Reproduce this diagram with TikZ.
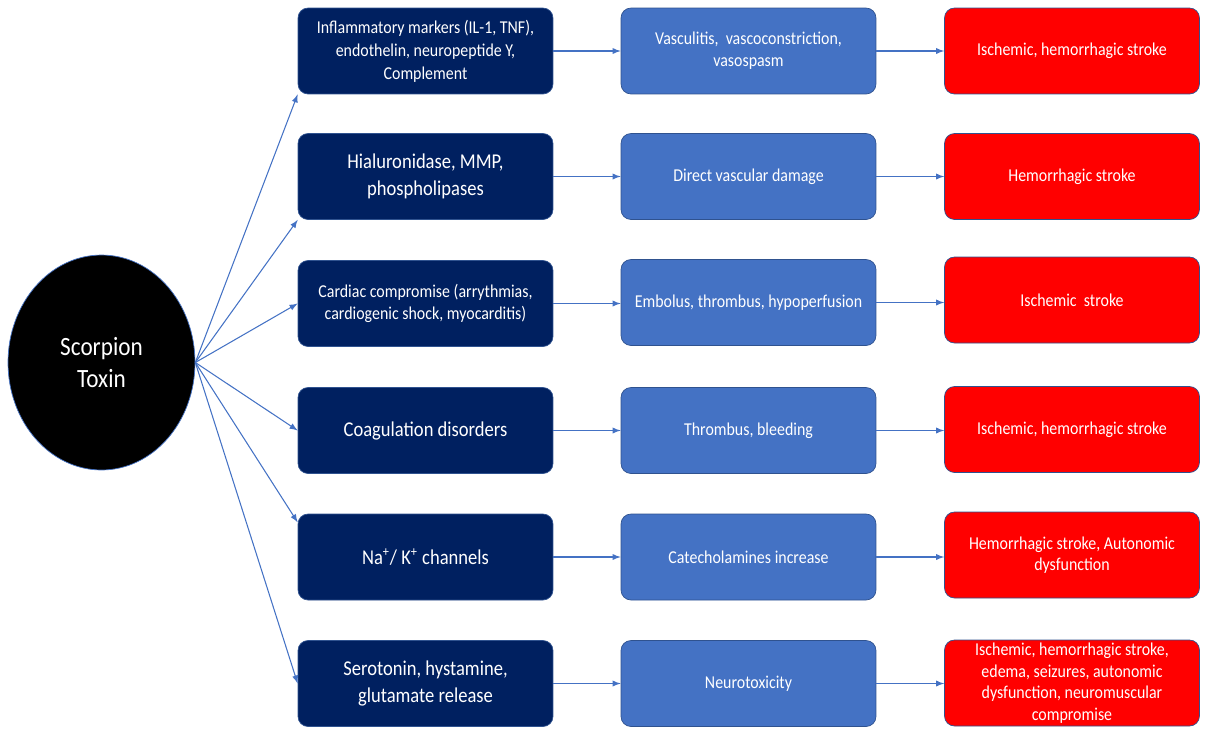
\documentclass[tikz,border=0pt]{standalone}
\usepackage{fontspec}
\setmainfont{Carlito}[FakeStretch=0.88]
\usetikzlibrary{arrows.meta,positioning,shapes,calc}

\definecolor{navy}{RGB}{0,32,96}
\definecolor{midblue}{RGB}{68,114,196}
\definecolor{edgeblue}{RGB}{47,82,143}
\definecolor{strokered}{RGB}{255,0,0}

\begin{document}
\begin{tikzpicture}[x=0.02cm, y=-0.02cm]

		\tikzstyle{toxin}=[ellipse, thin, fill=black, draw=midblue, text=white, minimum width=3.74cm, minimum height=4.3cm, align=center, font=\fontsize{15}{18}\selectfont]
		\tikzstyle{cause}=[rectangle, rounded corners=0.2cm, thin, fill=navy, draw=edgeblue, text=white, minimum width=5.1cm, minimum height=1.72cm, inner sep=1pt, align=center]
		\tikzstyle{effect}=[rectangle, rounded corners=0.2cm, thin, fill=midblue, draw=edgeblue, text=white, minimum width=5.1cm, minimum height=1.72cm, inner sep=1pt, align=center, font=\fontsize{10.3}{12.5}\selectfont]
		\tikzstyle{outcome}=[rectangle, rounded corners=0.2cm, thin, fill=strokered, draw=edgeblue, text=white, minimum width=5.1cm, minimum height=1.72cm, inner sep=0.5pt, align=center, font=\fontsize{10.3}{12.3}\selectfont]
		\tikzstyle{small}=[font=\fontsize{10.3}{13}\selectfont]
		\tikzstyle{large}=[font=\fontsize{12}{15}\selectfont]
		\tikzstyle{link}=[-latex, line width=0.6pt, midblue]

		\useasboundingbox (0,0) rectangle (1208,728);

		\node[toxin] (tox) at (101.5,362.5) {Scorpion\\Toxin};

		\node[cause, small] (c1) at (425.5,51)    {Inflammatory markers (IL-1, TNF),\\endothelin, neuropeptide Y,\\Complement};
		\node[cause, large] (c2) at (425.5,176.5) {Hialuronidase, MMP,\\phospholipases};
		\node[cause, small] (c3) at (425.5,303.5) {Cardiac compromise (arrythmias,\\cardiogenic shock, myocarditis)};
		\node[cause, large] (c4) at (425.5,430.5) {Coagulation disorders};
		\node[cause, large] (c5) at (425.5,557)   {Na\textsuperscript{+}/ K\textsuperscript{+} channels};
		\node[cause, large] (c6) at (425.5,683.5) {Serotonin, hystamine,\\glutamate release};

		\node[effect] (b1) at (748.5,51)    {Vasculitis,\ \ vascoconstriction,\\vasospasm};
		\node[effect] (b2) at (748.5,176.5) {Direct vascular damage};
		\node[effect] (b3) at (748.5,302.5) {Embolus, thrombus, hypoperfusion};
		\node[effect] (b4) at (748.5,430.5) {Thrombus, bleeding};
		\node[effect] (b5) at (748.5,557)   {Catecholamines increase};
		\node[effect] (b6) at (748.5,683.5) {Neurotoxicity};

		\node[outcome] (r1) at (1072,51)    {Ischemic, hemorrhagic stroke};
		\node[outcome] (r2) at (1072,176.5) {Hemorrhagic stroke};
		\node[outcome] (r3) at (1072,300)   {Ischemic\ \ stroke};
		\node[outcome] (r4) at (1072,429.5) {Ischemic, hemorrhagic stroke};
		\node[outcome] (r5) at (1072,555)   {Hemorrhagic stroke, Autonomic\\dysfunction};
		\node[outcome] (r6) at (1072,683)   {Ischemic, hemorrhagic stroke,\\edema, seizures, autonomic\\dysfunction, neuromuscular\\compromise};

		% Toxin links
		\draw[link] (tox.east) -- (c1.south west);
		\draw[link] (tox.east) -- (c2.south west);
		\draw[link] (tox.east) -- (c3.west);
		\draw[link] (tox.east) -- (c4.west);
		\draw[link] (tox.east) -- ($(c5.north west)!0.1!(c5.south west)$);
		\draw[link] (tox.east) -- (c6.west);

		% Row links
		\draw[link] (c1.east) -- (c1.east -| b1.west);
		\draw[link] (c2.east) -- (c2.east -| b2.west);
		\draw[link] (c3.east) -- (c3.east -| b3.west);
		\draw[link] (c4.east) -- (c4.east -| b4.west);
		\draw[link] (c5.east) -- (c5.east -| b5.west);
		\draw[link] (c6.east) -- (c6.east -| b6.west);

		\draw[link] (b1.east) -- (b1.east -| r1.west);
		\draw[link] (b2.east) -- (b2.east -| r2.west);
		\draw[link] (b3.east) -- (b3.east -| r3.west);
		\draw[link] (b4.east) -- (b4.east -| r4.west);
		\draw[link] (b5.east) -- (b5.east -| r5.west);
		\draw[link] (b6.east) -- (b6.east -| r6.west);
\end{tikzpicture}
\end{document}
